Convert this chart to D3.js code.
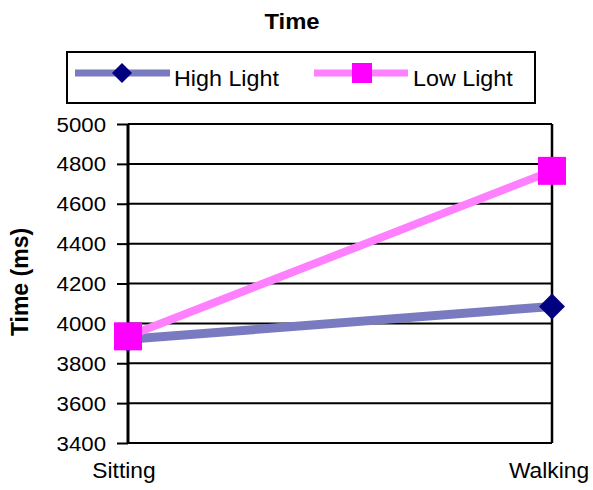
<!DOCTYPE html>
<html><head><meta charset="utf-8">
<script src="https://cdn.jsdelivr.net/npm/d3@7"></script>
<style>body{margin:0;background:#fff}svg{display:block}text{font-family:"Liberation Sans",Arial,sans-serif}</style>
</head><body><svg id="c" width="593" height="490"></svg>
<script>
const categories = ["Sitting", "Walking"];
const highLight = [3920, 4085];
const lowLight = [3935, 4765];
const yTicks = [3400, 3600, 3800, 4000, 4200, 4400, 4600, 4800, 5000];

const SX = 1.06;
const svg = d3.select("#c");
const L = 128, R = 552, T = 124, B = 443;
const x = d3.scalePoint().domain(categories).range([L, R]);
const y = d3.scaleLinear().domain([3400, 5000]).range([B, T]);

function txt(g, px, py, s, size, anchor, bold) {
  return g.append("text").attr("transform", `translate(${px},${py}) scale(${SX},1)`)
    .attr("text-anchor", anchor).attr("font-size", size).attr("fill", "#000")
    .attr("font-family", '"Liberation Sans",Arial,sans-serif')
    .attr("font-weight", bold ? "bold" : "normal").text(s);
}

// title
txt(svg, 292, 29, "Time", 22.5, "middle", true);

// grid
svg.append("g").selectAll("line").data(yTicks).join("line")
  .attr("x1", L).attr("x2", R).attr("y1", d => y(d)).attr("y2", d => y(d))
  .attr("stroke", "#000").attr("stroke-width", 2);
svg.append("line").attr("x1", R).attr("x2", R).attr("y1", T).attr("y2", B).attr("stroke", "#000").attr("stroke-width", 2.5);

// y axis
const ya = svg.append("g").attr("transform", `translate(${L},0)`)
  .call(d3.axisLeft(y).tickValues(yTicks).tickSize(11).tickFormat(""));
ya.select(".domain").attr("stroke-width", 3).attr("d", `M0,${T}V${B}`);
ya.selectAll(".tick line").attr("stroke-width", 2);
const fmt = d3.format("d");
yTicks.forEach(v => txt(svg, L - 22, y(v) + 7.5, fmt(v), 21, "end", false));

// x labels
categories.forEach((c, i) => txt(svg, x(c) + (i === 0 ? -4 : -3), 478, c, 21.5, "middle", false));

// y title
svg.append("text").attr("transform", `translate(28,282) scale(1.08,1) rotate(-90)`).attr("text-anchor", "middle")
  .attr("font-weight", "bold").attr("font-size", 23).text("Time (ms)");

const line = d3.line().x((d, i) => x(categories[i])).y(d => y(d));
svg.append("path").datum(highLight).attr("d", line).attr("fill", "none").attr("stroke", "#7a7ac0").attr("stroke-width", 9);
svg.append("path").datum(lowLight).attr("d", line).attr("fill", "none").attr("stroke", "#ff80ff").attr("stroke-width", 8);
const diamond = s => `M0,${-s}L${s},0L0,${s}L${-s},0Z`;
svg.append("g").selectAll("path").data(highLight).join("path")
  .attr("transform", (d, i) => `translate(${x(categories[i])},${y(d)})`).attr("d", diamond(13)).attr("fill", "#000080");
svg.append("g").selectAll("rect").data(lowLight).join("rect")
  .attr("x", (d, i) => x(categories[i]) - 14).attr("y", d => y(d) - 14).attr("width", 28).attr("height", 28).attr("fill", "#ff00ff");

// legend
const lg = svg.append("g");
lg.append("rect").attr("x", 67).attr("y", 52).attr("width", 468).attr("height", 51).attr("fill", "#fff").attr("stroke", "#000").attr("stroke-width", 2);
lg.append("line").attr("x1", 75).attr("x2", 170).attr("y1", 73).attr("y2", 73).attr("stroke", "#7a7ac0").attr("stroke-width", 7);
lg.append("path").attr("transform", "translate(122,73)").attr("d", diamond(10)).attr("fill", "#000080");
txt(lg, 174, 86, "High Light", 22, "start", false);
lg.append("line").attr("x1", 314).attr("x2", 408).attr("y1", 73).attr("y2", 73).attr("stroke", "#ff80ff").attr("stroke-width", 7);
lg.append("rect").attr("x", 352).attr("y", 63).attr("width", 20).attr("height", 20).attr("fill", "#ff00ff");
txt(lg, 413, 86, "Low Light", 22, "start", false);
</script></body></html>
